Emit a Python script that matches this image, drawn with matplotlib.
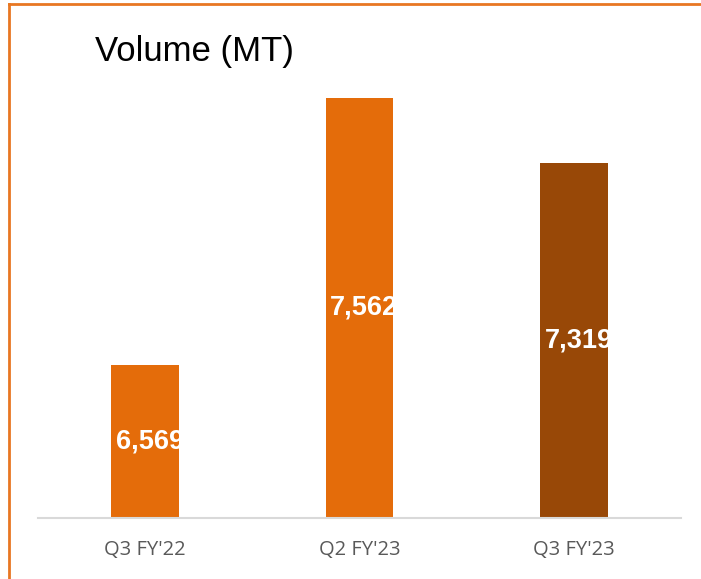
import matplotlib
matplotlib.use('Agg')
import matplotlib.pyplot as plt
from matplotlib.lines import Line2D

categories = ["Q3 FY'22", "Q2 FY'23", "Q3 FY'23"]
volumes = [6569, 7562, 7319]
bar_colors = ['#E46C0A', '#E46C0A', '#984807']

W, H = 701, 579
fig = plt.figure(figsize=(W / 100, H / 100), dpi=100)
ax = fig.add_axes([38 / W, (H - 518) / H, 643 / W, 484 / H])

x = range(len(categories))
bars = ax.bar(x, volumes, width=0.317, color=bar_colors, zorder=2)
base = 6000
ax.set_ylim(base, 7800)
ax.set_xlim(-0.5, len(categories) - 0.5)

for b, v in zip(bars, volumes):
    t = ax.text(b.get_x() + b.get_width() / 2 + 0.023, (base + v) / 2, f'{v:,}',
                ha='center', va='center', color='white', fontsize=19.5,
                fontweight='bold', family='Liberation Sans', zorder=3)
    t.set_clip_path(b)

for s in ['top', 'right', 'left']:
    ax.spines[s].set_visible(False)
ax.spines['bottom'].set_color('#D9D9D9')
ax.spines['bottom'].set_linewidth(1.5)
ax.set_yticks([])
ax.set_xticks(list(x))
ax.set_xticklabels(categories, family='Open Sans', fontsize=14.5, color='#595959')
ax.tick_params(axis='x', length=0, pad=16)

fig.text(95 / W, 1 - 52 / H, 'Volume (MT)', family='Liberation Sans',
         fontsize=25, color='black', ha='left', va='center')

# orange frame (top and left edges)
fig.add_artist(Line2D([8.5 / W, 1], [1 - 4 / H, 1 - 4 / H], color='#E87722', lw=2,
                      transform=fig.transFigure))
fig.add_artist(Line2D([8.5 / W, 8.5 / W], [0, 1 - 4 / H], color='#E87722', lw=2,
                      transform=fig.transFigure))

fig.savefig('out.png', dpi=100)
